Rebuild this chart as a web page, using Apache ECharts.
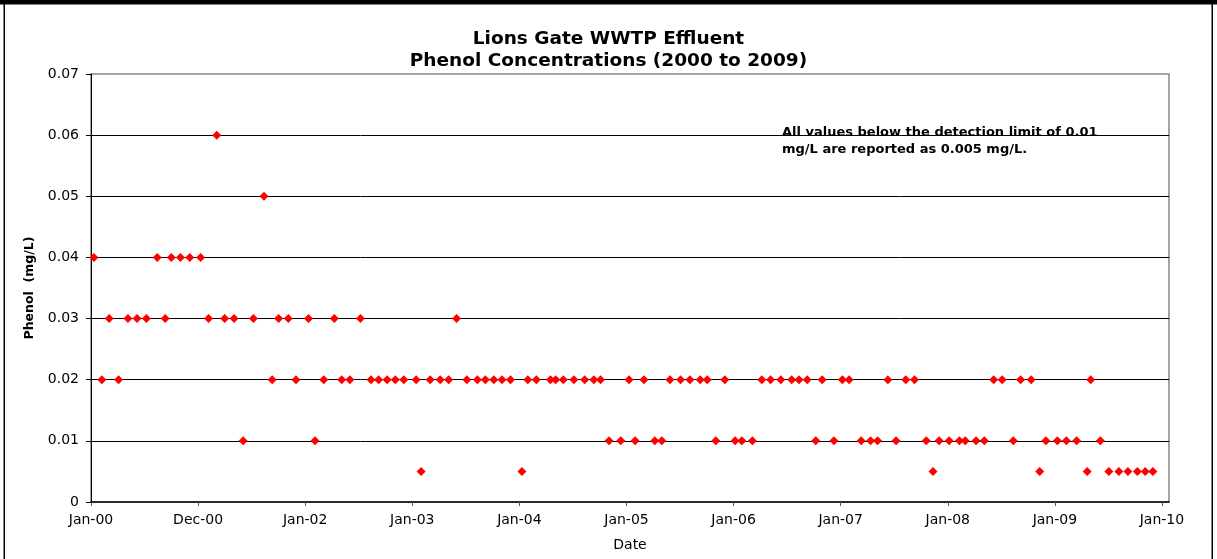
<!DOCTYPE html>
<html>
<head>
<meta charset="utf-8">
<script src="https://cdn.jsdelivr.net/npm/echarts@6/dist/echarts.min.js"></script>
<style>
html,body{margin:0;padding:0;background:#fff;}
#chart{width:1217px;height:559px;}
</style>
</head>
<body>
<div id="chart"></div>
<script>
// Sample dates
const sampleDates = [
'2000-01-11','2000-02-07','2000-03-03','2000-04-04','2000-05-06','2000-06-06','2000-07-08','2000-08-14','2000-09-10','2000-10-01','2000-11-01','2000-12-03',
'2001-01-09','2001-02-05','2001-03-05','2001-04-01','2001-05-03','2001-06-03','2001-07-08','2001-08-13','2001-09-10','2001-10-02','2001-11-04','2001-11-30',
'2002-01-12','2002-02-03','2002-03-05','2002-04-10','2002-05-05','2002-06-02','2002-07-08','2002-08-13','2002-09-08','2002-10-07','2002-11-04','2002-12-03',
'2003-01-14','2003-01-31','2003-03-03','2003-04-06','2003-05-05','2003-06-01','2003-07-06','2003-08-11','2003-09-07','2003-10-06','2003-11-03','2003-12-02',
'2004-01-10','2004-01-30','2004-02-28','2004-04-16','2004-05-04','2004-05-30','2004-07-05','2004-08-11','2004-09-11','2004-10-04','2004-11-02','2004-12-12',
'2005-01-09','2005-01-30','2005-03-01','2005-04-07','2005-05-01','2005-05-29','2005-07-04','2005-08-05','2005-09-09','2005-10-03','2005-11-01','2005-12-02',
'2006-01-06','2006-01-29','2006-03-06','2006-04-07','2006-05-07','2006-06-11','2006-07-18','2006-08-12','2006-09-09','2006-10-08','2006-10-30','2006-12-09',
'2007-01-07','2007-01-30','2007-03-12','2007-04-13','2007-05-07','2007-06-11','2007-07-09','2007-08-11','2007-09-10','2007-10-20','2007-11-12','2007-12-03',
'2008-01-06','2008-02-10','2008-03-01','2008-04-07','2008-05-05','2008-06-06','2008-07-05','2008-08-12','2008-09-06','2008-10-12','2008-11-10','2008-12-01',
'2009-01-09','2009-02-09','2009-03-16','2009-04-21','2009-05-03','2009-06-05','2009-07-04','2009-08-07','2009-09-07','2009-10-09','2009-11-05','2009-12-01'
];

// Phenol concentration (mg/L)
const phenol = [
0.04,0.02,0.03,0.02,0.03,0.03,0.03,0.04,0.03,0.04,0.04,0.04,
0.04,0.03,0.06,0.03,0.03,0.01,0.03,0.05,0.02,0.03,0.03,0.02,
0.03,0.01,0.02,0.03,0.02,0.02,0.03,0.02,0.02,0.02,0.02,0.02,
0.02,0.005,0.02,0.02,0.02,0.03,0.02,0.02,0.02,0.02,0.02,0.02,
0.005,0.02,0.02,0.02,0.02,0.02,0.02,0.02,0.02,0.02,0.01,0.01,
0.02,0.01,0.02,0.01,0.01,0.02,0.02,0.02,0.02,0.02,0.01,0.02,
0.01,0.01,0.01,0.02,0.02,0.02,0.02,0.02,0.02,0.01,0.02,0.01,
0.02,0.02,0.01,0.01,0.01,0.02,0.01,0.02,0.02,0.01,0.005,0.01,
0.01,0.01,0.01,0.01,0.01,0.02,0.02,0.01,0.02,0.02,0.005,0.01,
0.01,0.01,0.01,0.005,0.02,0.01,0.005,0.005,0.005,0.005,0.005,0.005
];

// X-axis tick labels (Excel date axis, major unit 365.3 days from 1-Jan-2000)
const xTickLabels = ['Jan-00','Dec-00','Jan-02','Jan-03','Jan-04','Jan-05','Jan-06','Jan-07','Jan-08','Jan-09','Jan-10'];
const X_MAJOR_DAYS = 365.3;
const X_MAX_DAYS = 3677;

// Y-axis ticks
const yMin = 0, yMax = 0.07, yStep = 0.01;

const titleLines = ['Lions Gate WWTP Effluent', 'Phenol Concentrations (2000 to 2009)'];
const noteLines = ['All values below the detection limit of 0.01', 'mg/L are reported as 0.005 mg/L.'];

const DAY0 = Date.UTC(2000, 0, 1);
function dayIndex(s) {
  const p = s.split('-').map(Number);
  return (Date.UTC(p[0], p[1] - 1, p[2]) - DAY0) / 86400000;
}
const points = sampleDates.map((d, i) => [dayIndex(d), phenol[i]]);
const tickPositions = xTickLabels.map((_, i) => i * X_MAJOR_DAYS);

const chart = echarts.init(document.getElementById('chart'), null, {renderer: 'canvas'});
const FONT = 'DejaVu Sans';
chart.setOption({
  animation: false,
  backgroundColor: '#ffffff',
  title: {
    text: titleLines.join('\n'),
    left: 'center',
    top: 28,
    padding: [0, 0, 0, 9],
    textStyle: {fontFamily: FONT, fontWeight: 'bold', fontSize: 18.5, lineHeight: 22, color: '#000'}
  },
  grid: {left: 91, right: 48, top: 74, bottom: 57, show: true, borderColor: '#888888', borderWidth: 1.5, containLabel: false, outerBoundsMode: 'none'},
  xAxis: {
    type: 'value',
    min: 0,
    max: X_MAX_DAYS,
    name: 'Date',
    nameLocation: 'middle',
    nameGap: 36,
    nameTextStyle: {fontFamily: FONT, fontSize: 14, color: '#000'},
    axisLine: {show: true, lineStyle: {color: '#000', width: 1.5}},
    axisTick: {show: true, inside: false, length: 4, customValues: tickPositions, lineStyle: {color: '#555', width: 1}},
    axisLabel: {
      customValues: tickPositions,
      margin: 11,
      fontFamily: FONT, fontSize: 14, color: '#000',
      formatter: v => xTickLabels[Math.round(v / X_MAJOR_DAYS)] || ''
    },
    splitLine: {show: false}
  },
  yAxis: {
    type: 'value',
    min: yMin,
    max: yMax,
    interval: yStep,
    name: 'Phenol  (mg/L)',
    nameLocation: 'middle',
    nameGap: 55,
    nameTextStyle: {fontFamily: FONT, fontSize: 12.5, fontWeight: 'bold', color: '#000'},
    axisLine: {show: true, lineStyle: {color: '#000', width: 1}},
    axisTick: {show: true, inside: false, length: 5, lineStyle: {color: '#000'}},
    axisLabel: {
      margin: 12, fontFamily: FONT, fontSize: 14, color: '#000',
      formatter: v => (Math.abs(v) < 1e-9 ? '0' : v.toFixed(2))
    },
    splitLine: {show: true, showMinLine: false, showMaxLine: false, lineStyle: {color: '#000', width: 1}}
  },
  series: [{
    type: 'scatter',
    name: 'Phenol',
    data: points,
    symbol: 'diamond',
    symbolSize: 9,
    itemStyle: {color: '#ff0000', opacity: 1},
    z: 5
  }],
  graphic: [
    {type: 'text', left: 782, top: 124, z: 10,
     style: {text: noteLines.join('\n'), font: 'bold 13px "DejaVu Sans"', lineHeight: 17, fill: '#000'}},
    {type: 'rect', shape: {x: 0, y: 0, width: 1217, height: 4.5}, style: {fill: '#000'}, silent: true},
    {type: 'rect', shape: {x: 3.5, y: 0, width: 1.5, height: 559}, style: {fill: '#000'}, silent: true},
    {type: 'rect', shape: {x: 1211.5, y: 0, width: 1.5, height: 559}, style: {fill: '#000'}, silent: true}
  ]
});
</script>
</body>
</html>
